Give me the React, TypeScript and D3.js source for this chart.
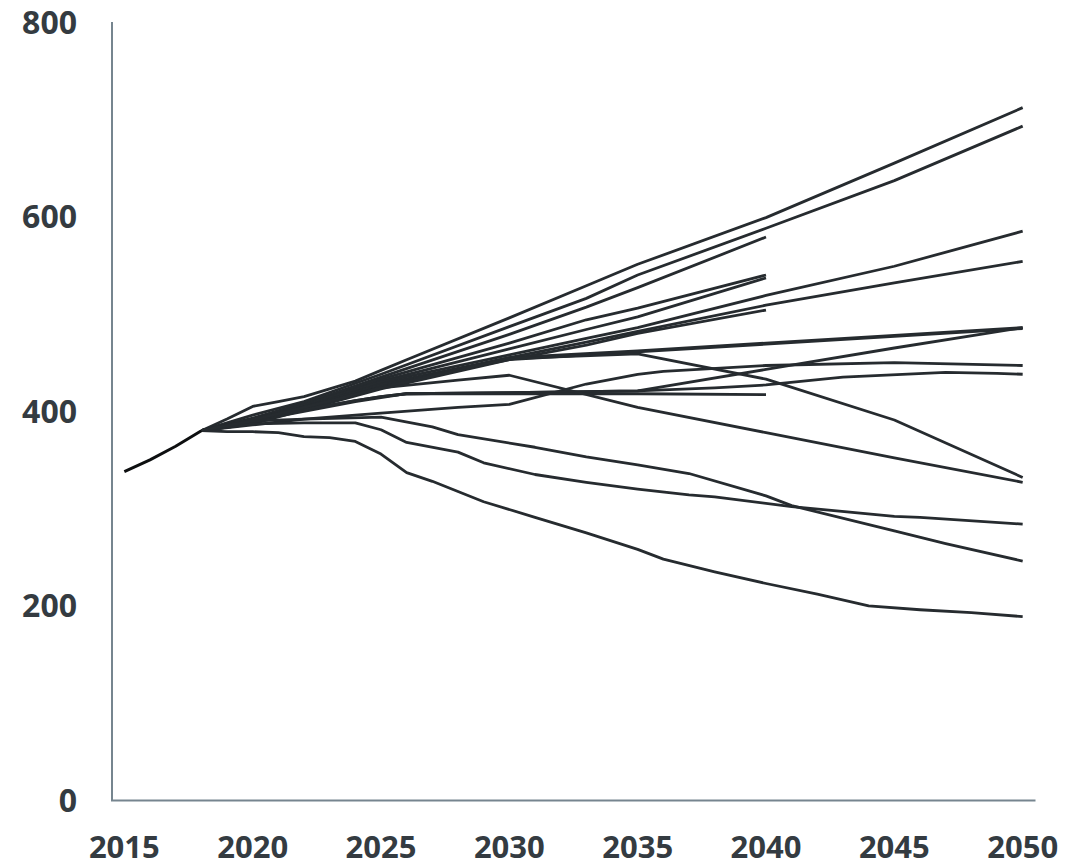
import React from "react";
import * as d3 from "d3";

type Pt = [number, number];

// Shared history 2015-2018
const history: Pt[] = [[2015, 338], [2016, 350], [2017, 364], [2018, 380]];

// Scenario paths (year, value)
const s712: Pt[] = [[2018, 380], [2019, 392], [2020, 405], [2021, 410], [2022, 415], [2023, 423], [2024, 431], [2025, 442], [2026, 453], [2030, 496], [2033, 529], [2035, 551], [2040, 599], [2045, 655], [2050, 712]];
const s693: Pt[] = [[2018, 380], [2019, 388], [2020, 396], [2022, 410], [2025, 438], [2030, 487], [2033, 516], [2035, 540], [2040, 588], [2045, 637], [2050, 693]];
const s579: Pt[] = [[2018, 380], [2020, 393], [2022, 408], [2025, 435], [2030, 479], [2033, 507], [2035, 527], [2040, 579]];
const s540: Pt[] = [[2018, 380], [2020, 392], [2025, 433], [2030, 470], [2033, 494], [2035, 506], [2040, 540]];
const s537: Pt[] = [[2018, 380], [2020, 391], [2025, 431], [2030, 464], [2033, 484], [2035, 497], [2040, 537]];
const s585: Pt[] = [[2018, 380], [2020, 390], [2025, 430], [2030, 458], [2033, 475], [2035, 486], [2040, 519], [2045, 549], [2050, 585]];
const s554: Pt[] = [[2018, 380], [2020, 389], [2025, 428], [2030, 455], [2033, 471], [2035, 482], [2040, 509], [2045, 532], [2050, 554]];
const s504: Pt[] = [[2018, 380], [2020, 389], [2025, 427], [2030, 453], [2033, 468], [2035, 480], [2040, 504]];
const s486a: Pt[] = [[2018, 380], [2020, 388], [2025, 425], [2030, 455], [2035, 462], [2040, 470], [2045, 478], [2050, 486]];
const s486b: Pt[] = [[2018, 380], [2020, 387], [2025, 423], [2030, 453], [2035, 461], [2040, 469], [2045, 477], [2050, 485]];
const s332: Pt[] = [[2018, 380], [2020, 388], [2025, 424], [2030, 454], [2035, 459], [2040, 433], [2045, 391], [2050, 332]];
const s447: Pt[] = [[2018, 380], [2020, 386], [2022, 392], [2025, 398], [2028, 404], [2030, 407], [2033, 428], [2035, 438], [2036, 441], [2040, 447], [2045, 450], [2050, 447]];
const s486c: Pt[] = [[2018, 380], [2020, 390], [2022, 400], [2024, 410], [2025, 414], [2026, 418], [2030, 419], [2035, 421], [2040, 443], [2045, 465], [2050, 486]];
const s438: Pt[] = [[2018, 380], [2020, 391], [2022, 401], [2024, 411], [2025, 415], [2026, 418], [2030, 419], [2035, 421], [2038, 424], [2040, 427], [2043, 435], [2047, 440], [2049, 439], [2050, 438]];
const s417: Pt[] = [[2018, 380], [2020, 392], [2022, 402], [2024, 411], [2025, 415], [2026, 418], [2030, 418], [2035, 418], [2040, 417]];
const s327: Pt[] = [[2018, 380], [2020, 391], [2022, 404], [2025, 424], [2028, 432], [2030, 437], [2035, 404], [2040, 378], [2045, 352], [2050, 327]];
const s284: Pt[] = [[2018, 380], [2020, 387], [2022, 388], [2024, 388], [2025, 381], [2026, 368], [2028, 358], [2029, 347], [2031, 335], [2033, 327], [2035, 320], [2037, 314], [2038, 312], [2041, 302], [2045, 292], [2046, 291], [2050, 284]];
const s246: Pt[] = [[2018, 380], [2020, 390], [2022, 392], [2025, 394], [2027, 384], [2028, 376], [2031, 363], [2033, 353], [2035, 345], [2037, 336], [2040, 313], [2041, 303], [2045, 277], [2047, 264], [2050, 246]];
const s189: Pt[] = [[2018, 380], [2019, 379], [2020, 379], [2021, 378], [2022, 374], [2023, 373], [2024, 369], [2025, 356], [2026, 337], [2027, 328], [2029, 307], [2031, 291], [2033, 275], [2035, 258], [2036, 248], [2038, 235], [2040, 223], [2042, 212], [2044, 200], [2046, 196], [2048, 193], [2050, 189]];

const scenarios: Pt[][] = [s712, s693, s579, s540, s537, s585, s554, s504, s486a, s486b, s332, s447, s486c, s438, s417, s327, s284, s246, s189];

const xTicks = [2015, 2020, 2025, 2030, 2035, 2040, 2045, 2050];
const yTicks = [0, 200, 400, 600, 800];

export default function App() {
  const W = 1081, H = 867;
  const x = d3.scaleLinear().domain([2014.5, 2050.5]).range([111.5, 1035.5]);
  const y = d3.scaleLinear().domain([0, 800]).range([800.5, 22]);
  const line = d3.line<Pt>().x(d => x(d[0])).y(d => y(d[1]));
  const textColor = "#343b41";
  const font = "'Open Sans', 'DejaVu Sans', sans-serif";
  return (
    <svg width={W} height={H} style={{ position: "absolute", left: 0, top: 0, background: "#fff" }}>
      <line x1={112} x2={112} y1={y(800)} y2={y(0)} stroke="#76858f" strokeWidth={2} />
      <line x1={111} x2={1035.5} y1={y(0)} y2={y(0)} stroke="#76858f" strokeWidth={2} />
      {yTicks.map(t => (
        <text key={t} x={77} y={y(t) + 11.5} textAnchor="end" fontFamily={font} fontWeight={700} fontSize={32} fill={textColor}>{t}</text>
      ))}
      {xTicks.map(t => (
        <text key={t} x={x(t)} y={858} textAnchor="middle" fontFamily={font} fontWeight={700} fontSize={31} fill={textColor}>{t}</text>
      ))}
      <g fill="none" stroke="#262b2f" strokeWidth={2.8} strokeLinejoin="round">
        {scenarios.map((s, i) => (
          <path key={i} d={line(s) ?? ""} />
        ))}
      </g>
      <path d={line(history) ?? ""} fill="none" stroke="#0d0f10" strokeWidth={3} strokeLinejoin="round" />
    </svg>
  );
}
